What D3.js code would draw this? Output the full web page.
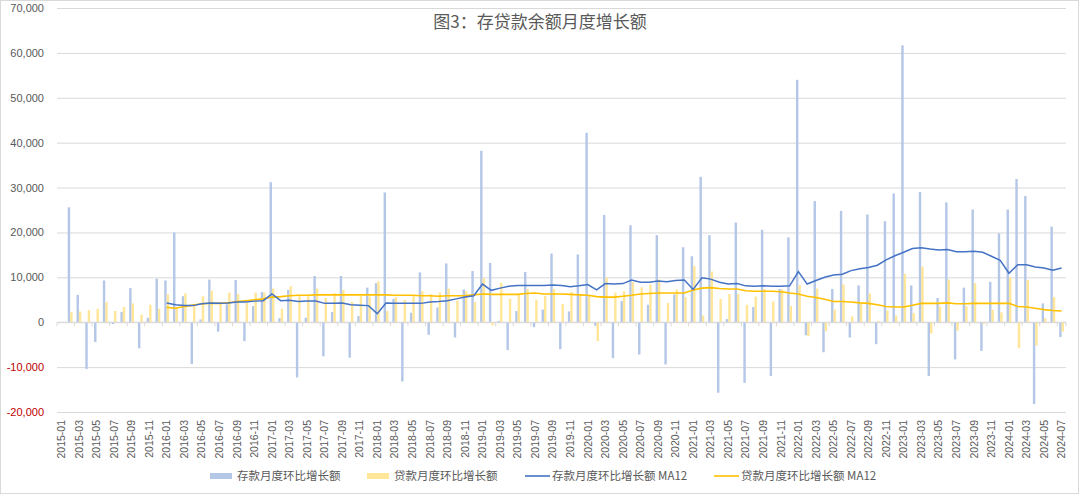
<!DOCTYPE html>
<html lang="zh">
<head>
<meta charset="UTF-8">
<title>图3：存贷款余额月度增长额</title>
<style>
  html, body { margin: 0; padding: 0; background: #fff; }
  svg { display: block; }
  text { font-family: "Liberation Sans", "Noto Sans CJK SC", sans-serif; fill: #595959; }
  .cjk { font-family: "Noto Sans CJK SC", sans-serif; }
</style>
</head>
<body>
<div id="chart"></div>
<script src="https://cdn.jsdelivr.net/npm/d3@7/dist/d3.min.js"></script>
<script>
// 月份 2015-01 ~ 2024-07
const months = d3.utcMonth.range(new Date(Date.UTC(2015, 0, 1)), new Date(Date.UTC(2024, 7, 1)))
  .map(d3.utcFormat('%Y-%m'));

// 存款月度环比增长额（2015-01 无数据）
const deposit = [
  null, 25600, 6100, -10400, -4400, 9300, -400, 2300, 7600, -5800, 1000, 9700,
  9300, 20000, 5800, -9300, 600, 9500, -2100, 4000, 9400, -4200, 3600, 6700,
  31200, 900, 7200, -12300, 1000, 10300, -7600, 2300, 10300, -7900, 1400, 7700,
  8700, 28900, 5200, -13200, 2100, 11100, -2800, 3300, 13100, -3400, 7300, 11400,
  38200, 13200, 300, -6200, 2500, 11200, -1100, 2800, 15300, -6000, 2400, 15100,
  42200, -800, 23900, -8000, 4700, 21600, -7200, 3900, 19400, -9400, 6200, 16700,
  14700, 32400, 19400, -15700, 700, 22200, -13500, 3400, 20600, -12000, 7400, 18900,
  54000, -2900, 27000, -6700, 7400, 24800, -3400, 8200, 24000, -4900, 22500, 28700,
  61700, 8200, 29000, -12000, 5400, 26700, -8300, 7700, 25100, -6400, 9000, 19800,
  25100, 31900, 28100, -18200, 4200, 21300, -3300
];

// 贷款月度环比增长额
const loan = [
  null, 2200, 2400, 2700, 3000, 4500, 2500, 3400, 4200, 1700, 3900, 3000,
  6200, 3200, 6400, 3600, 5800, 7000, 4300, 6600, 6300, 4300, 6600, 6600,
  7500, 3000, 8000, 5800, 5800, 7500, 5400, 6500, 7200, 4500, 5800, 5700,
  9100, 2500, 5600, 5000, 5800, 6900, 6300, 6600, 7500, 4800, 6900, 4500,
  9800, -700, 8800, 5200, 6300, 7400, 5000, 5800, 7400, 4100, 6700, 6100,
  6100, -4200, 9900, 6600, 6900, 8900, 7800, 8400, 9500, 4300, 7300, 5600,
  12500, 1500, 11300, 5200, 6300, 6300, 3900, 5700, 7400, 4600, 7300, 3600,
  8300, -3100, 7500, -2000, 2800, 8400, 1300, 4100, 6400, 300, 2600, 1500,
  10800, 2000, 12400, -2500, 3500, 9500, -1900, 3600, 8700, -400, 2800, 2200,
  10000, -5800, 9400, -5200, 900, 5600, -2100
];

// MA12 从 2016-01 开始
const maStart = '2016-01';
const depositMA = [
  4300, 3900, 3700, 3700, 4100, 4300, 4200, 4300, 4500, 4500, 4700, 4800,
  6300, 4800, 4900, 4600, 4700, 4700, 4200, 4200, 4300, 3900, 3800, 3700,
  1900, 4300, 4200, 4200, 4200, 4200, 4500, 4600, 4800, 5200, 5600, 5900,
  8500, 7100, 7600, 8000, 8200, 8200, 8200, 8200, 8300, 8200, 7900, 8100,
  8400, 7200, 8600, 8500, 8600, 9400, 8900, 8900, 9200, 9000, 9300, 9400,
  7300, 9900, 9600, 8900, 8500, 8600, 8100, 8000, 8100, 8000, 8000, 8100,
  11300, 8500, 9300, 10000, 10500, 10700, 11500, 11900, 12200, 12700, 13900, 14800,
  15600, 16400, 16600, 16300, 16100, 16200, 15700, 15700, 15800, 15600, 14700, 13800,
  10900, 12800, 12800, 12300, 12100, 11600, 12100
];
const loanMA = [
  3300, 3100, 3500, 3800, 4100, 4200, 4200, 4300, 4600, 4800, 5000, 5200,
  5600, 5700, 5900, 6000, 6000, 6100, 6100, 6100, 6100, 6100, 6100, 6100,
  6100, 6100, 6000, 6000, 6000, 5900, 5900, 5800, 5900, 5900, 5900, 6100,
  6300, 6200, 6200, 6200, 6200, 6400, 6500, 6300, 6300, 6300, 6200, 6100,
  6000, 5700, 5600, 5600, 5800, 6000, 6300, 6400, 6500, 6500, 6500, 6500,
  7200, 7600, 7700, 7500, 7400, 7400, 7000, 6900, 6900, 6900, 6800, 6500,
  6300, 5800, 5500, 5100, 4600, 4600, 4500, 4300, 4200, 3900, 3500, 3400,
  3400, 3800, 4200, 4200, 4200, 4300, 4100, 4100, 4200, 4200, 4200, 4200,
  4200, 3500, 3400, 3100, 2800, 2600, 2500
];

const yTicks = [-20000, -10000, 0, 10000, 20000, 30000, 40000, 50000, 60000, 70000];
const title = '图3：存贷款余额月度增长额';
const seriesNames = ['存款月度环比增长额', '贷款月度环比增长额', '存款月度环比增长额 MA12', '贷款月度环比增长额 MA12'];
const colors = { dep: '#b4c7e7', loan: '#ffe699', depLine: '#4472c4', loanLine: '#ffc000' };

const W = 1080, H = 495;
const plot = { left: 57, right: 1066, top: 8, bottom: 412 };

const svg = d3.select('#chart').append('svg').attr('width', W).attr('height', H);
svg.append('rect').attr('x', 0.5).attr('y', 0.5).attr('width', W - 2).attr('height', H - 2)
  .attr('fill', '#fff').attr('stroke', '#d9d9d9');

const x = d3.scaleBand().domain(months).range([plot.left, plot.right])
  .paddingInner(0.45).paddingOuter(0.225);
const x1 = d3.scaleBand().domain(['dep', 'loan']).range([0, x.bandwidth()]);
const y = d3.scaleLinear().domain([-20000, 70000]).range([plot.bottom, plot.top]);
const cx = m => x(m) + x.bandwidth() / 2;

// y 轴 + 网格
const fmt = d => (d < 0 ? '-' : '') + d3.format(',')(Math.abs(d));
const yAxis = svg.append('g').attr('transform', `translate(${plot.left},0)`)
  .call(d3.axisLeft(y).tickValues(yTicks).tickFormat(fmt)
    .tickSize(-(plot.right - plot.left)).tickPadding(13));
yAxis.select('.domain').remove();
yAxis.selectAll('.tick line').attr('stroke', '#d9d9d9');
yAxis.selectAll('.tick text').attr('font-size', 11)
  .style('font-family', '"Liberation Sans", sans-serif')
  .style('fill', d => d < 0 ? '#c00000' : '#595959');

// 柱
const rows = months.map((m, i) => ({ m, dep: deposit[i], loan: loan[i] }));
const bars = svg.append('g');
['dep', 'loan'].forEach(k => {
  bars.selectAll('.b-' + k).data(rows.filter(r => r[k] != null)).join('rect')
    .attr('x', r => x(r.m) + x1(k))
    .attr('width', x1.bandwidth())
    .attr('y', r => y(Math.max(0, r[k])))
    .attr('height', r => Math.abs(y(r[k]) - y(0)))
    .attr('fill', colors[k]);
});

// 零轴与刻度线
svg.append('line').attr('x1', plot.left).attr('x2', plot.right)
  .attr('y1', y(0)).attr('y2', y(0)).attr('stroke', '#d9d9d9');
const step = x.step();
svg.append('g').selectAll('line')
  .data(months.filter((m, i) => i % 2 === 0).concat(['end']))
  .join('line')
  .attr('x1', m => m === 'end' ? plot.right : x(m) - (step - x.bandwidth()) / 2)
  .attr('x2', m => m === 'end' ? plot.right : x(m) - (step - x.bandwidth()) / 2)
  .attr('y1', y(0)).attr('y2', y(0) + 4).attr('stroke', '#d9d9d9');

// MA12 折线
const maMonths = months.slice(months.indexOf(maStart));
const line = d3.line().x(d => cx(d[0])).y(d => y(d[1]));
svg.append('path').datum(maMonths.map((m, i) => [m, loanMA[i]]))
  .attr('d', line).attr('fill', 'none').attr('stroke', colors.loanLine).attr('stroke-width', 1.6);
svg.append('path').datum(maMonths.map((m, i) => [m, depositMA[i]]))
  .attr('d', line).attr('fill', 'none').attr('stroke', colors.depLine).attr('stroke-width', 1.5);

// x 轴标签（隔月）
const xAxis = svg.append('g').attr('transform', `translate(0,${plot.bottom})`)
  .call(d3.axisBottom(x).tickValues(months.filter((m, i) => i % 2 === 0)).tickSize(0));
xAxis.select('.domain').remove();
xAxis.selectAll('.tick text')
  .attr('font-size', 10.5)
  .style('font-family', '"Liberation Sans", sans-serif')
  .attr('x', -8).attr('y', 0).attr('dy', '0.35em')
  .attr('transform', 'rotate(-90)')
  .style('text-anchor', 'end');

// 标题
svg.append('text').attr('class', 'cjk').attr('x', 540).attr('y', 28)
  .attr('text-anchor', 'middle').attr('font-size', 17).text(title);

// 图例
const legend = [
  { name: seriesNames[0], type: 'rect', color: colors.dep, x: 210 },
  { name: seriesNames[1], type: 'rect', color: colors.loan, x: 367 },
  { name: seriesNames[2], type: 'line', color: colors.depLine, x: 525 },
  { name: seriesNames[3], type: 'line', color: colors.loanLine, x: 714 }
];
const lg = svg.append('g').attr('transform', 'translate(0,476)');
legend.forEach(l => {
  if (l.type === 'rect') {
    lg.append('rect').attr('x', l.x).attr('y', -3).attr('width', 22).attr('height', 6).attr('fill', l.color);
  } else {
    lg.append('line').attr('x1', l.x).attr('x2', l.x + 25).attr('y1', 0).attr('y2', 0)
      .attr('stroke', l.color).attr('stroke-width', 1.6);
  }
  lg.append('text').attr('class', 'cjk').attr('x', l.x + 27).attr('y', 0).attr('dy', '0.35em')
    .attr('font-size', 11.5).text(l.name);
});
</script>
</body>
</html>
